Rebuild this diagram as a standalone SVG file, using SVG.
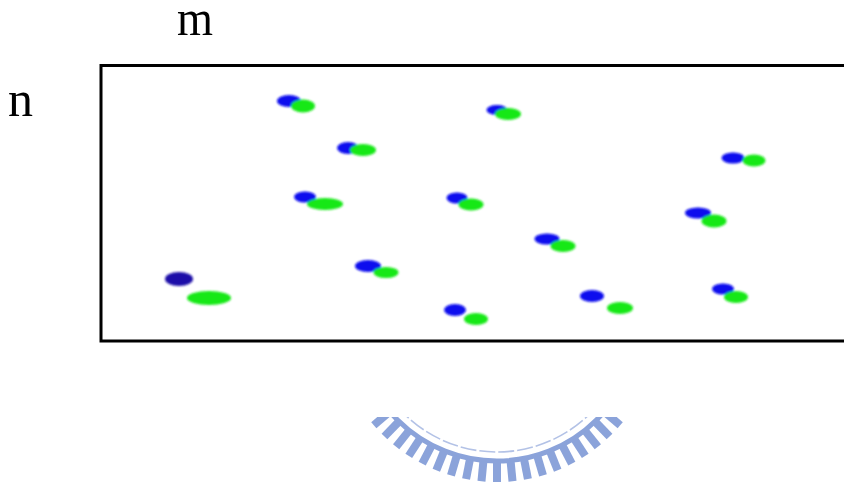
<svg xmlns="http://www.w3.org/2000/svg" xmlns:xlink="http://www.w3.org/1999/xlink" width="844" height="486" viewBox="0 0 844 486">
  <style>
    .lbl { font-family: "Liberation Serif", "DejaVu Serif", serif; font-size: 50px; fill: #000; }
    .frame { fill: none; stroke: #000; stroke-width: 3; }
    .b { fill: #0a0aee; }
    .g { fill: #16e816; }
    .tick { stroke: #8ba3da; stroke-width: 8; stroke-linecap: butt; }
    .ring { fill: none; stroke: #8ba3da; stroke-width: 5; }
    .inner { fill: none; stroke: #b3c2e6; stroke-width: 1.6; stroke-dasharray: 16 3; }
  </style>
  <defs>
    <filter id="soft" x="-30%" y="-30%" width="160%" height="160%">
      <feGaussianBlur stdDeviation="0.8"/>
    </filter>
    <clipPath id="lowerBand">
      <rect x="0" y="417" width="844" height="69"/>
    </clipPath>
    <line id="tooth" class="tick" x1="497" y1="462" x2="497" y2="482"/>
  </defs>

  <rect width="844" height="486" fill="#fff"/>

  <!-- axis labels -->
  <text class="lbl" x="177" y="35" textLength="36" lengthAdjust="spacingAndGlyphs">m</text>
  <text class="lbl" x="8" y="116">n</text>

  <!-- field frame -->
  <g id="field">
    <rect class="frame" x="101" y="65.5" width="800" height="275.5"/>
  </g>

  <!-- point pairs: blue marker with green partner -->
  <g id="points" filter="url(#soft)">
    <g id="p1"><ellipse class="b" cx="289" cy="101" rx="12" ry="6"/><ellipse class="g" cx="303" cy="106" rx="12" ry="6.5"/></g>
    <g id="p2"><ellipse class="b" cx="497" cy="110" rx="10.5" ry="5"/><ellipse class="g" cx="508" cy="114" rx="13" ry="6"/></g>
    <g id="p3"><ellipse class="b" cx="348" cy="148" rx="11" ry="6"/><ellipse class="g" cx="363" cy="150" rx="13" ry="6"/></g>
    <g id="p4"><ellipse class="b" cx="733" cy="158" rx="11.5" ry="5.5"/><ellipse class="g" cx="754" cy="160.5" rx="11.5" ry="6"/></g>
    <g id="p5"><ellipse class="b" cx="305" cy="197" rx="11" ry="5.5"/><ellipse class="g" cx="325" cy="204" rx="18" ry="6"/></g>
    <g id="p6"><ellipse class="b" cx="457" cy="198" rx="10.5" ry="5.5"/><ellipse class="g" cx="471" cy="204.5" rx="12.5" ry="6"/></g>
    <g id="p7"><ellipse class="b" cx="698" cy="213" rx="13" ry="5.5"/><ellipse class="g" cx="714" cy="221" rx="12.5" ry="6.5"/></g>
    <g id="p8"><ellipse class="b" cx="547" cy="239" rx="12.5" ry="5.5"/><ellipse class="g" cx="563" cy="246" rx="12.5" ry="6"/></g>
    <g id="p9"><ellipse cx="179" cy="279" rx="14" ry="7" fill="#1d0ca8"/><ellipse class="g" cx="209" cy="298" rx="22" ry="7"/></g>
    <g id="p10"><ellipse class="b" cx="368" cy="266" rx="13" ry="6"/><ellipse class="g" cx="386" cy="272.5" rx="12.5" ry="5.5"/></g>
    <g id="p11"><ellipse class="b" cx="455" cy="310" rx="11" ry="6"/><ellipse class="g" cx="476" cy="319" rx="12" ry="6"/></g>
    <g id="p12"><ellipse class="b" cx="592" cy="296" rx="12" ry="6"/><ellipse class="g" cx="620" cy="308" rx="13" ry="6"/></g>
    <g id="p13"><ellipse class="b" cx="723" cy="289" rx="11" ry="5.5"/><ellipse class="g" cx="736" cy="297" rx="12" ry="6"/></g>
  </g>

  <!-- faint toothed seal along the bottom -->
  <g id="seal" clip-path="url(#lowerBand)">
    <circle class="inner" cx="497" cy="320" r="132"/>
    <circle class="ring" cx="497" cy="320" r="141"/>
    <use xlink:href="#tooth" transform="rotate(-55 497 320)"/>
    <use xlink:href="#tooth" transform="rotate(-49.5 497 320)"/>
    <use xlink:href="#tooth" transform="rotate(-44 497 320)"/>
    <use xlink:href="#tooth" transform="rotate(-38.5 497 320)"/>
    <use xlink:href="#tooth" transform="rotate(-33 497 320)"/>
    <use xlink:href="#tooth" transform="rotate(-27.5 497 320)"/>
    <use xlink:href="#tooth" transform="rotate(-22 497 320)"/>
    <use xlink:href="#tooth" transform="rotate(-16.5 497 320)"/>
    <use xlink:href="#tooth" transform="rotate(-11 497 320)"/>
    <use xlink:href="#tooth" transform="rotate(-5.5 497 320)"/>
    <use xlink:href="#tooth"/>
    <use xlink:href="#tooth" transform="rotate(5.5 497 320)"/>
    <use xlink:href="#tooth" transform="rotate(11 497 320)"/>
    <use xlink:href="#tooth" transform="rotate(16.5 497 320)"/>
    <use xlink:href="#tooth" transform="rotate(22 497 320)"/>
    <use xlink:href="#tooth" transform="rotate(27.5 497 320)"/>
    <use xlink:href="#tooth" transform="rotate(33 497 320)"/>
    <use xlink:href="#tooth" transform="rotate(38.5 497 320)"/>
    <use xlink:href="#tooth" transform="rotate(44 497 320)"/>
    <use xlink:href="#tooth" transform="rotate(49.5 497 320)"/>
    <use xlink:href="#tooth" transform="rotate(55 497 320)"/>
  </g>
</svg>
